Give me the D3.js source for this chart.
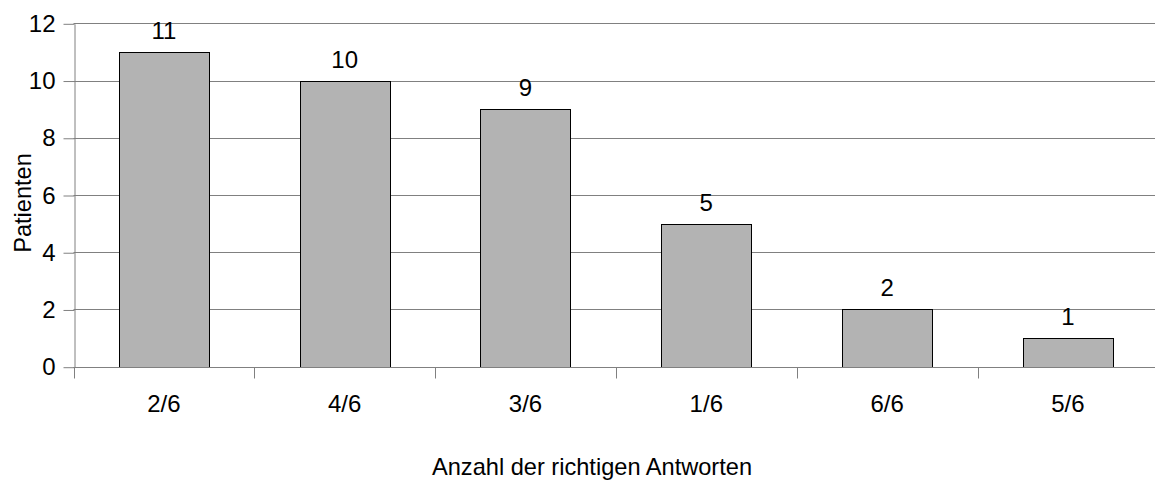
<!DOCTYPE html>
<html>
<head>
<meta charset="utf-8">
<script src="https://cdn.jsdelivr.net/npm/d3@7"></script>
<style>
  html, body { margin: 0; padding: 0; background: #fff; }
  svg { display: block; font-family: "Liberation Sans", Arial, sans-serif; }
</style>
</head>
<body>
<svg id="chart" width="1155" height="480"></svg>
<script>
// Number of patients per count of correct answers
const categories = ["2/6", "4/6", "3/6", "1/6", "6/6", "5/6"];
const patients = [11, 10, 9, 5, 2, 1];
const yTicks = [0, 2, 4, 6, 8, 10, 12];
const xTitle = "Anzahl der richtigen Antworten";
const yTitle = "Patienten";

const W = 1155, H = 480;
const plotLeft = 73.5, plotTop = 23.3, plotBottom = 366.7;
const step = 180.8;
const plotRight = plotLeft + step * categories.length;

const svg = d3.select("#chart");

const x = d3.scaleBand()
  .domain(categories)
  .range([plotLeft, plotRight])
  .paddingInner(0.5)
  .paddingOuter(0.25);

const y = d3.scaleLinear().domain([0, 12]).range([plotBottom, plotTop]);

// horizontal grid lines
svg.append("g")
  .selectAll("line")
  .data(yTicks)
  .join("line")
  .attr("x1", plotLeft)
  .attr("x2", W)
  .attr("y1", d => Math.round(y(d)) + 0.5)
  .attr("y2", d => Math.round(y(d)) + 0.5)
  .attr("stroke", "#808080")
  .attr("stroke-width", 1);

// bars
svg.append("g")
  .selectAll("rect")
  .data(patients)
  .join("rect")
  .attr("x", (d, i) => Math.round(x(categories[i])) + 0.5)
  .attr("y", d => Math.round(y(d)) + 0.5)
  .attr("width", Math.round(x.bandwidth()))
  .attr("height", d => Math.round(y(0)) - Math.round(y(d)))
  .attr("fill", "#b3b3b3")
  .attr("stroke", "#000")
  .attr("stroke-width", 1);

// value labels
svg.append("g")
  .selectAll("text")
  .data(patients)
  .join("text")
  .attr("x", (d, i) => x(categories[i]) + x.bandwidth() / 2)
  .attr("y", d => y(d) - 13)
  .attr("text-anchor", "middle")
  .attr("font-size", 24)
  .attr("fill", "#000")
  .text(d => d);

// y axis
const yAxis = svg.append("g")
  .attr("transform", `translate(${Math.round(plotLeft) + 0.5},0.5)`)
  .call(d3.axisLeft(y).tickValues(yTicks).tickSize(11).tickPadding(8).tickSizeOuter(0));
yAxis.select(".domain").attr("stroke", "#808080");
yAxis.selectAll(".tick line").attr("stroke", "#808080");
yAxis.selectAll(".tick text")
  .attr("font-size", 24)
  .attr("font-family", "Liberation Sans, Arial, sans-serif")
  .attr("fill", "#000");

// x axis baseline with tick marks between categories
const boundaries = d3.range(categories.length + 1).map(i => plotLeft + i * x.step());
const xg = svg.append("g");
xg.append("line")
  .attr("x1", plotLeft).attr("x2", W)
  .attr("y1", Math.round(plotBottom) + 0.5).attr("y2", Math.round(plotBottom) + 0.5)
  .attr("stroke", "#808080");
xg.selectAll("line.tk")
  .data(boundaries)
  .join("line")
  .attr("class", "tk")
  .attr("x1", d => Math.round(d) + 0.5)
  .attr("x2", d => Math.round(d) + 0.5)
  .attr("y1", Math.round(plotBottom) + 0.5)
  .attr("y2", Math.round(plotBottom) + 11.5)
  .attr("stroke", "#808080");
xg.selectAll("text")
  .data(categories)
  .join("text")
  .attr("x", d => x(d) + x.bandwidth() / 2)
  .attr("y", 412)
  .attr("text-anchor", "middle")
  .attr("font-size", 24)
  .attr("fill", "#000")
  .text(d => d);

// axis titles
svg.append("text")
  .attr("x", 592)
  .attr("y", 475)
  .attr("text-anchor", "middle")
  .attr("font-size", 23.6)
  .attr("fill", "#000")
  .text(xTitle);

svg.append("text")
  .attr("transform", "translate(31,203) rotate(-90)")
  .attr("text-anchor", "middle")
  .attr("font-size", 23.6)
  .attr("fill", "#000")
  .text(yTitle);
</script>
</body>
</html>
